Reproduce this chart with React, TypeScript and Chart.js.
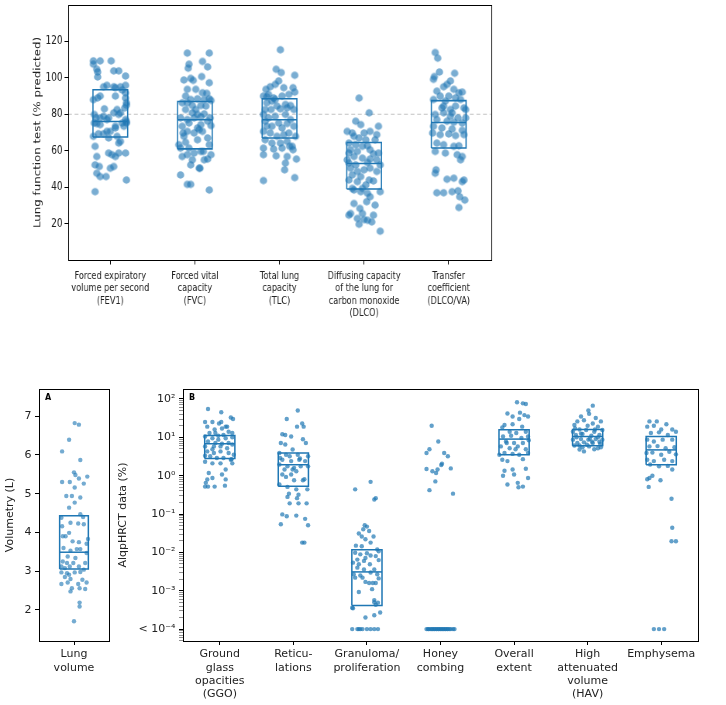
import React, { useEffect, useRef } from "react";
import { Chart, registerables } from "chart.js";

Chart.register(...registerables);

const FONT = "'DejaVu Sans', 'Noto Sans', sans-serif";
const BLUE = "#1f77b4";
const TEXT = "#222222";

// ---------------- Top chart: lung function tests ----------------
const pftCategories = [
  ["Forced expiratory", "volume per second", "(FEV1)"],
  ["Forced vital", "capacity", "(FVC)"],
  ["Total lung", "capacity", "(TLC)"],
  ["Diffusing capacity", "of the lung for", "carbon monoxide", "(DLCO)"],
  ["Transfer", "coefficient", "(DLCO/VA)"],
];
const pftYTicks = [20, 40, 60, 80, 100, 120];
const pftYRange = [0, 140];
const pftReference = 80;
const pftQ1 = [67.5, 61, 67, 39, 61.5];
const pftMedian = [76, 77, 77, 53, 75.5];
const pftQ3 = [93.5, 87, 88.5, 64.5, 87.5];

const fev1Values = [
  109.3, 107.5, 109.3, 109.3, 104.7, 103.2, 103.8, 103.8, 101, 100.5,
  90, 89, 95.1, 95.9, 95.1, 94.6, 95.1, 95.9, 91.8, 88.9,
  93.3, 90, 86.3, 83.5, 83, 82.6, 80.8, 79.9, 78, 78,
  78.9, 78, 79.9, 77.1, 80.8, 75.2, 74.9, 74.3, 77.1, 72.5,
  75.2, 75.2, 67.9, 62.4, 56.8, 52.2, 51.3, 47.6, 45.8, 45.8,
  50.4, 51.3, 58.7, 57.8, 56.8, 58.7, 58.7, 43.9, 37.5, 70.6,
  70.6, 73.4, 69.3, 64.2, 65.1, 73.4, 69.3, 67, 67.9, 85, 76, 88,
];
const fev1Jitter = [
  -0.2, -0.2, -0.12, 0.01, -0.16, -0.15, 0.04, 0.1, 0.18, -0.15,
  -0.12, -0.15, -0.08, -0.04, 0.04, 0.06, 0.12, 0.18, 0.18, 0.18,
  0.14, 0.06, 0.19, 0.17, -0.07, 0.08, 0.04, -0.19, -0.17, -0.12,
  -0.08, -0.02, 0.1, 0.18, 0.12, -0.19, -0.16, -0.12, -0.04, 0.06,
  0.14, 0.19, -0.2, -0.18, -0.16, -0.18, -0.13, -0.16, -0.12, -0.05,
  0, 0.04, -0.02, 0.02, 0.06, 0.1, 0.18, 0.19, -0.18, -0.04,
  0, 0.06, -0.08, 0.1, 0.12, 0.16, -0.14, -0.02, 0.08, 0.19, 0.19, -0.2,
];

const fvcValues = [
  113.6, 113.6, 107.5, 109, 106, 105.3, 98.8, 99.7, 98.6, 100.7,
  97.3, 93.7, 91.8, 91.5, 90, 88.1, 88.5, 88.1, 88.5, 86.3,
  86.3, 84.8, 84.8, 84.5, 87.6, 82.6, 80.8, 79.9, 80.2, 78,
  78, 77.1, 78, 78.6, 76.2, 73.4, 75.2, 74.3, 72.5, 73.8,
  70.6, 69.7, 71.6, 70.6, 67.9, 64.6, 66, 67, 63.3, 63.3,
  61.4, 61.4, 59.6, 57.8, 56.8, 58.7, 57.8, 55, 50.4, 55,
  55.4, 46.7, 41.5, 41.5, 38.4, 52.2, 59.6, 69.7, 82.6, 93.7, 50.4,
];
const fvcJitter = [
  -0.09, 0.17, -0.07, 0.09, 0.15, -0.08, -0.13, -0.05, -0.02, 0.08,
  0.17, 0.01, 0.09, 0.14, -0.11, -0.05, 0.03, 0.11, 0.17, -0.15,
  -0.09, -0.03, 0.07, 0.13, 0.19, -0.11, -0.03, 0.03, 0.11, 0.18,
  -0.17, -0.09, -0.01, 0.07, 0.15, -0.15, -0.07, 0.07, 0.03, 0.19,
  -0.09, -0.01, 0.05, 0.09, -0.13, -0.11, 0.03, 0.15, 0.17, -0.19,
  -0.17, -0.07, 0.07, -0.09, -0.15, -0.01, 0.19, -0.03, 0.05, 0.11,
  0.15, -0.17, -0.09, -0.05, 0.17, -0.05, 0.1, -0.14, 0.01, -0.09, 0.06,
];

const tlcValues = [
  115.4, 104.7, 102.9, 101.4, 93.7, 95.1, 96.4, 94.6, 98.3, 94.6,
  92.2, 90, 90.9, 89, 90, 90.9, 86.3, 87.2, 84.5, 85.4,
  84.8, 82.6, 82.6, 83, 83.5, 82.6, 79.9, 78, 78.9, 79.9,
  77.1, 76.2, 73.4, 75.2, 74.9, 73.4, 70.6, 69.7, 67.9, 68.8,
  69.7, 67.9, 66, 64.2, 64.2, 65.1, 62.4, 61.4, 60.9, 61.4,
  60.5, 57.8, 57.2, 56.8, 55.4, 53.2, 49.5, 45.2, 43.6, 73.4,
  72.5, 62.4, 88.1, 89.6,
];
const tlcJitter = [
  0.01, -0.04, 0.02, 0.18, -0.16, -0.11, -0.05, 0.05, -0.01, 0.16,
  0.18, -0.19, -0.13, -0.07, 0.03, 0.11, -0.15, -0.09, -0.03, 0.07,
  0.13, -0.17, -0.1, 0.01, 0.09, 0.17, -0.19, -0.13, -0.05, 0.07,
  0.13, -0.17, -0.09, -0.01, 0.09, 0.17, -0.19, -0.11, -0.03, 0.05,
  0.11, 0.19, -0.17, -0.09, 0.01, 0.09, 0.15, -0.19, -0.07, 0.03,
  0.16, -0.19, -0.04, 0.09, 0.2, 0.07, 0.06, 0.18, -0.19, -0.15,
  0.03, 0.12, -0.05, -0.15,
];

const dlcoValues = [
  88.9, 80.8, 76.2, 74.3, 73.4, 70.6, 69.7, 69.7, 70.6, 67.9,
  67, 66, 66, 64.2, 63.3, 62.7, 60.5, 59.6, 58.7, 58.3,
  58.7, 56.8, 55.9, 55.4, 55, 53.2, 52.2, 53.5, 52.2, 50.4,
  48.6, 49.5, 50.4, 48.6, 46.7, 45.8, 43.9, 43.4, 43.9, 43,
  41.2, 38.4, 37.5, 36.6, 37.5, 39.3, 34.7, 31, 32, 30.1,
  28.3, 25.5, 24.6, 24.6, 22.8, 22.2, 21.8, 20.9, 19.6, 15.8,
  25.5, 60.5, 68.8, 62.4, 55, 39.3,
];
const dlcoJitter = [
  -0.06, 0.06, -0.1, -0.04, 0.17, -0.2, -0.14, 0, 0.07, -0.12,
  -0.06, 0.02, 0.13, -0.18, -0.1, 0.04, -0.16, -0.08, -0.18, 0.11,
  0.17, -0.12, -0.02, 0.07, 0.15, -0.18, -0.1, 0.04, 0.19, -0.16,
  -0.08, 0, 0.07, 0.15, -0.14, -0.04, 0.06, 0.11, -0.18, -0.08,
  0.02, -0.12, -0.04, 0.04, 0.19, -0.02, 0.07, -0.12, 0.03, 0.13,
  -0.05, -0.02, -0.18, 0.11, -0.08, 0, 0.04, 0.09, -0.06, 0.19,
  -0.16, 0.07, 0.15, -0.02, -0.2, -0.14,
];

const dlcoVaValues = [
  113.9, 110.8, 103.2, 100.7, 99.2, 102.5, 98.3, 96.4, 95.1, 93.7,
  91.8, 92.2, 92.7, 90, 90, 89, 88.1, 87.2, 88.1, 83.5,
  82.6, 84.5, 83.5, 79.9, 80.8, 80.8, 78, 78, 77.1, 76.2,
  75.6, 75.2, 73.4, 72.5, 71.9, 71.2, 69.7, 68.8, 69.2, 68.3,
  68.8, 64.2, 63.3, 62.4, 62.7, 59.6, 58.7, 57.8, 56.8, 55,
  49.5, 47.6, 44.3, 44.9, 43, 43.9, 36.9, 36.9, 37.5, 38,
  34.7, 32.9, 28.8, 84.5, 78.9, 82.6,
];
const dlcoVaJitter = [
  -0.16, -0.13, -0.11, -0.17, -0.18, 0.07, 0.02, -0.02, -0.06, 0.06,
  0.12, 0.16, -0.14, -0.1, 0, 0.08, -0.18, -0.04, 0.14, -0.08,
  0.02, 0.08, 0.18, -0.16, -0.06, 0.04, 0.11, 0.2, -0.14, -0.02,
  0.06, 0.16, -0.18, -0.08, 0.04, 0.16, -0.19, -0.1, 0, 0.08,
  0.18, -0.14, -0.06, 0.06, 0.12, -0.16, -0.04, 0.1, 0.16, 0.14,
  -0.15, -0.16, -0.02, 0.06, 0.16, 0.18, -0.14, -0.06, 0.04, 0.11,
  0.13, 0.19, 0.12, -0.06, 0.02, 0.2,
];

// ---------------- Panel A: lung volume ----------------
const volCategories = [["Lung", "volume"]];
const volYTicks = [2, 3, 4, 5, 6, 7];
const volYRange = [1.2, 7.7];
const volQ1 = [3.06];
const volMedian = [3.49];
const volQ3 = [4.43];
const volValues = [
  6.82, 6.78, 6.39, 6.09, 5.87, 5.55, 5.48, 5.3, 5.3, 5.39,
  5.44, 5.26, 5.16, 4.94, 4.94, 4.9, 4.77, 4.64, 4.47, 4.4,
  4.38, 4.25, 4.23, 4.21, 4.16, 3.99, 3.9, 3.77, 3.75, 3.6,
  3.53, 3.57, 3.47, 3.38, 3.34, 3.25, 3.21, 3.21, 3.21, 3.12,
  3.08, 3.12, 3.12, 3.04, 2.97, 2.95, 2.97, 2.98, 2.85, 2.8,
  2.78, 2.71, 2.67, 2.71, 2.67, 2.56, 2.54, 2.48, 2.56, 2.19,
  2.09, 1.71, 3.71, 3.9, 3.57, 2.91, 3.83,
];
const volJitter = [
  0.01, 0.07, -0.07, -0.17, 0.09, 0, 0.02, -0.17, -0.06, 0.07,
  0.19, 0.14, 0.01, -0.11, -0.03, 0.09, 0.01, -0.07, 0.09, 0.13,
  -0.18, -0.05, 0.06, 0.14, -0.17, -0.07, -0.12, -0.02, 0.07, -0.15,
  -0.05, 0.09, 0.18, -0.09, 0.02, -0.16, -0.1, -0.01, 0.16, -0.18,
  -0.13, -0.06, 0.07, 0.14, -0.18, -0.1, 0.01, 0.09, -0.13, -0.05,
  0.12, 0.18, -0.18, -0.09, 0.06, -0.03, 0.16, -0.05, 0.08, 0.08,
  0.08, 0, 0.18, -0.16, 0.04, -0.07, 0.2,
];

// ---------------- Panel B: AlqpHRCT data (log) ----------------
const ctCategories = [
  ["Ground", "glass", "opacities", "(GGO)"],
  ["Reticu-", "lations"],
  ["Granuloma/", "proliferation"],
  ["Honey", "combing"],
  ["Overall", "extent"],
  ["High", "attenuated", "volume", "(HAV)"],
  ["Emphysema"],
];
const ctMajorTicks = [1e-4, 1e-3, 1e-2, 1e-1, 1, 10, 100];
const ctTickLabels = ["< 10⁻⁴", "10⁻³", "10⁻²", "10⁻¹", "10⁰", "10¹", "10²"];
const ctYRange = [4.9e-5, 182];
// box statistics per category (null = no box drawn)
const ctQ1 = [2.8, 0.53, 0.00041, null, 3.5, 6, 1.93];
const ctMedian = [6.8, 1.93, 0.0031, null, 9.0, 10.5, 4.7];
const ctQ3 = [11.2, 3.9, 0.0117, null, 15.7, 16, 10.5];

const ggoValues = [
  55, 45, 33, 30, 25, 25, 23, 25, 19, 19,
  16, 17, 14, 13, 13, 11.5, 13, 10.5, 9.5, 8.7,
  9.5, 10, 7.8, 7.1, 6.8, 7.1, 5.8, 4.9, 5.8, 5.2,
  6.5, 4.3, 3.9, 4.3, 3.9, 3.3, 3.2, 2.9, 2.9, 2.7,
  2.3, 2.1, 2.1, 2.1, 1.45, 1.17, 1.07, 0.8, 0.87, 0.8,
  0.65, 0.52, 0.52, 0.55, 0.52, 2.6, 3.5, 5.8, 11, 19,
];
const ggoJitter = [
  -0.16, 0.02, 0.15, 0.18, -0.2, -0.1, -0.01, 0.02, 0.08, -0.17,
  -0.07, 0.03, 0.12, -0.14, -0.06, 0.05, 0.17, -0.2, -0.1, -0.02,
  0.08, 0.17, -0.16, -0.06, 0.03, 0.12, -0.2, -0.1, 0.01, 0.1,
  0.17, -0.17, -0.08, 0.01, 0.12, -0.2, -0.13, -0.04, 0.05, 0.16,
  -0.2, -0.1, 0.01, 0.17, 0.08, -0.15, 0.03, -0.17, -0.1, 0.08,
  -0.19, -0.16, -0.07, 0.07, -0.2, 0.15, 0.19, -0.08, -0.02, 0.1,
];

const reticValues = [
  50, 30, 19, 23, 19, 12, 11.5, 10.5, 8.9, 7.1,
  7.1, 6.5, 4.8, 3.9, 3.5, 3.5, 3.2, 2.6, 2.4, 2.6,
  2.4, 1.95, 1.75, 1.6, 1.75, 1.75, 1.45, 1.07, 0.93, 0.76,
  0.76, 0.81, 0.59, 0.51, 0.44, 0.44, 0.34, 0.32, 0.28, 0.26,
  0.19, 0.19, 0.19, 0.098, 0.088, 0.091, 0.075, 0.054, 0.051, 0.018,
  0.018, 3.2, 1.3, 2.8, 1.45, 1.07, 2.9,
];
const reticJitter = [
  0.06, -0.09, 0.05, 0.12, 0.14, -0.15, -0.11, -0.03, 0.13, 0.17,
  -0.17, -0.11, -0.01, -0.19, -0.1, 0.06, 0.2, -0.15, -0.03, 0.08,
  0.16, -0.19, -0.08, 0.01, 0.1, 0.2, -0.01, -0.15, -0.1, 0.01,
  0.13, 0.15, -0.19, -0.08, 0.04, 0.19, -0.06, 0.07, -0.08, 0.05,
  -0.05, 0.07, 0.18, -0.15, -0.09, 0.04, 0.16, -0.17, 0.2, 0.12,
  0.15, -0.05, 0.04, 0.09, -0.12, -0.03, -0.18,
];

// values of 1e-4 are below detection (plotted on the "< 10⁻⁴" row)
const granValues = [
  0.69, 0.44, 0.26, 0.24, 0.051, 0.047, 0.04, 0.031, 0.036, 0.026,
  0.026, 0.022, 0.018, 0.0145, 0.0107, 0.0098, 0.0089, 0.0083, 0.0072, 0.008,
  0.0063, 0.0054, 0.0049, 0.0049, 0.004, 0.0036, 0.0036, 0.0027, 0.0025, 0.003,
  0.0027, 0.0022, 0.0022, 0.0021, 0.0017, 0.0016, 0.0016, 0.0016, 0.0011, 0.00093,
  0.00049, 0.00057, 0.00035, 0.00043, 0.0002, 0.00023, 0.00027, 0.00036, 0.0005,
  0.015, 0.006, 0.012, 0.0065, 0.0095,
  1e-4, 1e-4, 1e-4, 1e-4, 1e-4, 1e-4, 1e-4, 1e-4, 1e-4,
];
const granJitter = [
  0.05, -0.16, 0.12, 0.1, -0.03, 0, -0.05, -0.11, 0.03, -0.07,
  0.09, -0.02, 0.05, -0.07, 0.16, -0.16, -0.09, 0.05, -0.02, 0.12,
  0.16, -0.19, -0.11, 0.04, -0.13, -0.04, 0.1, -0.18, -0.09, 0.05,
  0.14, -0.16, -0.06, 0.16, -0.02, 0.03, 0.08, 0.12, 0.07, -0.11,
  0.15, 0.1, -0.19, 0.12, -0.02, 0.1, 0.18, -0.2, 0.1,
  -0.15, -0.04, 0.14, -0.13, 0,
  -0.2, -0.13, -0.11, -0.09, -0.06, 0, 0.05, 0.1, 0.15,
];

const honeyValues = [
  20, 7.8, 4.9, 3.9, 3.9, 3.2, 2.05, 1.9, 1.5, 1.3, 1.17, 1.55, 1.45, 0.71, 0.42, 0.34,
  1e-4, 1e-4, 1e-4, 1e-4, 1e-4, 1e-4, 1e-4, 1e-4, 1e-4, 1e-4, 1e-4, 1e-4,
  1e-4, 1e-4, 1e-4, 1e-4, 1e-4, 1e-4, 1e-4, 1e-4, 1e-4, 1e-4, 1e-4, 1e-4,
];
const honeyJitter = [
  -0.12, -0.03, -0.15, -0.19, 0.05, 0.1, 0.02, 0.01, -0.19, -0.11, -0.06, 0.14, -0.04, -0.07, -0.15, 0.17,
  -0.19, -0.17, -0.16, -0.14, -0.12, -0.11, -0.09, -0.08, -0.06, -0.05, -0.03, -0.02,
  0, 0.01, 0.03, 0.04, 0.06, 0.07, 0.09, 0.1, 0.12, 0.14, 0.17, 0.19,
];

const overallValues = [
  82, 77, 74, 42, 35, 44, 38, 35, 30, 21,
  22, 19, 18, 14, 13, 14, 10.5, 11, 9.6, 10.5,
  7.8, 7.1, 7.1, 5.8, 5.2, 5.8, 4.9, 3.5, 3.9, 3.7,
  3.5, 3.9, 2.6, 2.4, 2.7, 1.45, 1.52, 1.35, 1.0, 1.07,
  0.87, 0.59, 0.65, 0.52, 0.5, 4.9, 7.1, 8.4,
];
const overallJitter = [
  0.04, 0.12, 0.16, -0.09, -0.02, 0.08, 0.14, 0.19, 0.07, -0.13,
  -0.02, 0.11, -0.16, -0.06, 0.03, 0.16, -0.15, -0.04, 0.1, 0.19,
  -0.11, 0, 0.12, -0.18, -0.06, 0.05, 0.16, -0.2, -0.13, -0.02,
  0.07, 0.19, -0.16, -0.09, 0.12, -0.02, 0.16, -0.13, -0.15, 0,
  0.19, -0.09, 0.05, 0.12, 0.06, 0.02, -0.1, 0.2,
];

const havValues = [
  67, 50, 41, 35, 32, 26, 28, 26, 23, 21,
  20, 19, 16, 14, 15.5, 14, 15.5, 11.5, 12.3, 11,
  11.5, 8.7, 9, 8.7, 9, 8.7, 7.1, 7.4, 7.1, 6.8,
  6.1, 5.5, 5.8, 5.2, 4.8, 4.3, 4.9, 5.5, 10, 9.2,
  10, 12.5, 16, 17, 6.4, 7.7, 6.1, 7.7,
];
const havJitter = [
  0.07, 0.01, 0.02, -0.09, 0.11, -0.14, -0.05, 0.18, 0.07, -0.18,
  0, 0.14, -0.11, -0.2, -0.02, 0.09, 0.2, -0.16, -0.07, 0.05,
  0.16, -0.2, -0.09, 0.01, 0.11, 0.2, -0.14, -0.05, 0.07, 0.17,
  -0.18, -0.07, 0.02, 0.14, -0.11, -0.05, 0.09, 0.18, -0.15, 0.03,
  0.14, -0.09, 0.1, -0.17, -0.01, 0.06, -0.11, 0.16,
];

const emphValues = [
  26, 26, 22, 19, 20, 16, 16, 14, 13, 13.5,
  11.5, 8.7, 7.8, 8.7, 8.7, 5.8, 5.9, 5.2, 5.5, 3.9,
  4.0, 3.5, 4.2, 3.6, 2.6, 2.4, 2.6, 2.4, 1.95, 1.75,
  1.8, 1.45, 1.0, 0.87, 0.81, 0.76, 0.51, 0.25, 0.044, 0.0195,
  0.0195, 1e-4, 1e-4, 1e-4,
];
const emphJitter = [
  -0.16, -0.06, 0.07, -0.19, -0.1, 0, 0.15, 0.2, -0.14, -0.03,
  0.09, -0.19, -0.1, 0.02, 0.15, -0.16, -0.05, 0.06, 0.18, -0.2,
  -0.12, 0, 0.11, 0.2, -0.19, -0.1, 0.04, 0.15, -0.15, -0.03,
  0.09, 0.15, -0.12, -0.16, -0.19, -0.01, -0.17, 0.14, 0.15, 0.14,
  0.2, -0.1, -0.03, 0.04,
];

// ---------------- helpers ----------------
const BOX_HALF = 0.205;

function stripDataset(values: number[], jitter: number[], idx: number, radius: number, color: string, style?: any) {
  return {
    data: values.map((v, i) => ({ x: idx + jitter[i], y: v })),
    showLine: false,
    pointRadius: radius,
    pointHoverRadius: radius,
    pointBackgroundColor: color,
    pointBorderWidth: 0,
    pointStyle: style || "circle",
    order: 1,
  };
}

// marker pre-widened so that it looks round after the horizontal compression
function ellipseMarker(r: number, sx: number, color: string) {
  const c = document.createElement("canvas");
  const w = Math.ceil((2 * r) / sx) + 2;
  const h = Math.ceil(2 * r) + 2;
  c.width = w;
  c.height = h;
  const g = c.getContext("2d")!;
  g.fillStyle = color;
  g.beginPath();
  g.ellipse(w / 2, h / 2, r / sx, r, 0, 0, Math.PI * 2);
  g.fill();
  return c;
}

function boxDatasets(q1: any[], med: any[], q3: any[], lw: number) {
  const out: any[] = [];
  q1.forEach((lo, i) => {
    if (lo == null) return;
    const hi = q3[i];
    const m = med[i];
    out.push({
      data: [
        { x: i - BOX_HALF, y: lo },
        { x: i + BOX_HALF, y: lo },
        { x: i + BOX_HALF, y: hi },
        { x: i - BOX_HALF, y: hi },
        { x: i - BOX_HALF, y: lo },
      ],
      showLine: true,
      borderColor: BLUE,
      borderWidth: lw,
      borderJoinStyle: "miter",
      pointRadius: 0,
      pointHoverRadius: 0,
      fill: false,
      tension: 0,
      order: 0,
    });
    out.push({
      data: [
        { x: i - BOX_HALF, y: m },
        { x: i + BOX_HALF, y: m },
      ],
      showLine: true,
      borderColor: BLUE,
      borderWidth: lw,
      pointRadius: 0,
      pointHoverRadius: 0,
      fill: false,
      order: 0,
    });
  });
  return out;
}

const framePlugin = {
  id: "frame",
  afterDatasetsDraw(chart: any, _args: any, opts: any) {
    const { ctx, chartArea: a } = chart;
    ctx.save();
    ctx.strokeStyle = "#000";
    ctx.lineWidth = opts.lineWidth || 1;
    ctx.strokeRect(Math.round(a.left) + 0.5, Math.round(a.top) + 0.5, Math.round(a.right - a.left), Math.round(a.bottom - a.top));
    if (opts.label) {
      ctx.fillStyle = "#000";
      ctx.font = `bold 8px ${FONT}`;
      ctx.textAlign = "center";
      ctx.textBaseline = "middle";
      ctx.fillText(opts.label, a.left + 9, a.top + 9);
    }
    ctx.restore();
  },
};

function axisBase(fontSize: number, tickLen: number, pad: number) {
  return {
    border: { display: false },
    grid: {
      display: true,
      drawOnChartArea: false,
      drawTicks: true,
      tickLength: tickLen,
      tickColor: "#000",
      tickWidth: 1,
    },
    ticks: {
      color: TEXT,
      font: { size: fontSize, family: FONT },
      padding: pad,
      autoSkip: false,
      maxRotation: 0,
      minRotation: 0,
    },
  };
}

function baseOptions() {
  return {
    responsive: false,
    maintainAspectRatio: false,
    animation: false,
    events: [],
  };
}

function fixWidth(w: number) {
  return (s: any) => {
    s.width = w;
    s.paddingTop = 0;
    s.paddingBottom = 0;
  };
}
function fixHeight(h: number) {
  return (s: any) => {
    s.height = h;
    s.paddingLeft = 0;
    s.paddingRight = 0;
  };
}

// Top chart drawn at a wider internal size then compressed horizontally
const TOP_SX = 0.775;
const TOP_W = 937;
const TOP_H = 345;

function makeTop(canvas: HTMLCanvasElement) {
  const marker = ellipseMarker(3.7, TOP_SX, "rgba(31,119,180,0.6)");
  const groups = [
    [fev1Values, fev1Jitter],
    [fvcValues, fvcJitter],
    [tlcValues, tlcJitter],
    [dlcoValues, dlcoJitter],
    [dlcoVaValues, dlcoVaJitter],
  ];
  const datasets: any[] = [
    {
      data: [
        { x: -0.5, y: pftReference },
        { x: pftCategories.length - 0.5, y: pftReference },
      ],
      showLine: true,
      borderColor: "#c2c2c2",
      borderWidth: 1.1,
      borderDash: [5, 3.5],
      pointRadius: 0,
      pointHoverRadius: 0,
      order: 2,
    },
    ...groups.map((g, i) => stripDataset(g[0] as number[], g[1] as number[], i, 3.7, "rgba(31,119,180,0.6)", marker)),
    ...boxDatasets(pftQ1, pftMedian, pftQ3, 1.6),
  ];
  const left = 68 / TOP_SX;
  const right = 491 / TOP_SX;
  const padLeft = 38;
  const xBase = axisBase(10.5, 4.5, 5);
  const yBase = axisBase(11.5, 4.5, 2.5);
  return new Chart(canvas, {
    type: "scatter",
    data: { datasets },
    plugins: [framePlugin],
    options: {
      ...baseOptions(),
      layout: { padding: { left: padLeft, right: TOP_W - right, top: 5, bottom: 0 } },
      plugins: { legend: { display: false }, tooltip: { enabled: false }, frame: { lineWidth: 1 } },
      scales: {
        x: {
          ...xBase,
          type: "linear",
          min: -0.5,
          max: pftCategories.length - 0.5,
          afterBuildTicks: (s: any) => {
            s.ticks = pftCategories.map((_, i) => ({ value: i }));
          },
          afterFit: fixHeight(TOP_H - 260),
          ticks: { ...xBase.ticks, callback: (v: any) => pftCategories[Math.round(v)] },
        },
        y: {
          ...yBase,
          type: "linear",
          min: pftYRange[0],
          max: pftYRange[1],
          afterBuildTicks: (s: any) => {
            s.ticks = pftYTicks.map((v) => ({ value: v }));
          },
          afterFit: fixWidth(left - padLeft),
          ticks: { ...yBase.ticks, callback: (v: any) => String(v) },
          title: {
            display: true,
            text: "Lung function test (% predicted)",
            color: TEXT,
            font: { size: 11.8, family: FONT },
            padding: { top: 4, bottom: 0 },
          },
        },
      },
    },
  } as any);
}

function makeA(canvas: HTMLCanvasElement) {
  const datasets: any[] = [
    stripDataset(volValues, volJitter, 0, 2.2, "rgba(31,119,180,0.62)"),
    ...boxDatasets(volQ1, volMedian, volQ3, 1.5),
  ];
  const xBase = axisBase(11, 4, 3);
  const yBase = axisBase(11, 4, 3.5);
  return new Chart(canvas, {
    type: "scatter",
    data: { datasets },
    plugins: [framePlugin],
    options: {
      ...baseOptions(),
      layout: { padding: { left: 0, right: 3, top: 9, bottom: 0 } },
      plugins: { legend: { display: false }, tooltip: { enabled: false }, frame: { lineWidth: 1, label: "A" } },
      scales: {
        x: {
          ...xBase,
          type: "linear",
          min: -0.5,
          max: 0.5,
          afterBuildTicks: (s: any) => {
            s.ticks = volCategories.map((_, i) => ({ value: i }));
          },
          afterFit: fixHeight(64),
          ticks: { ...xBase.ticks, callback: (v: any) => volCategories[Math.round(v)] },
        },
        y: {
          ...yBase,
          type: "linear",
          min: volYRange[0],
          max: volYRange[1],
          afterBuildTicks: (s: any) => {
            s.ticks = volYTicks.map((v) => ({ value: v }));
          },
          afterFit: fixWidth(39),
          ticks: { ...yBase.ticks, callback: (v: any) => String(v) },
          title: {
            display: true,
            text: "Volumetry (L)",
            color: TEXT,
            font: { size: 11, family: FONT },
            padding: { top: 3.5, bottom: 0 },
          },
        },
      },
    },
  } as any);
}

function isMajorLog(v: number) {
  return ctMajorTicks.some((m) => Math.abs(Math.log10(v) - Math.log10(m)) < 1e-6);
}

function makeB(canvas: HTMLCanvasElement) {
  const color = "rgba(31,119,180,0.7)";
  const groups = [
    [ggoValues, ggoJitter],
    [reticValues, reticJitter],
    [granValues, granJitter],
    [honeyValues, honeyJitter],
    [overallValues, overallJitter],
    [havValues, havJitter],
    [emphValues, emphJitter],
  ];
  const datasets: any[] = [
    ...groups.map((g, i) => stripDataset(g[0] as number[], g[1] as number[], i, 2.2, color)),
    ...boxDatasets(ctQ1, ctMedian, ctQ3, 1.5),
  ];
  const xBase = axisBase(11, 4, 3);
  const yBase = axisBase(11, 4, 3.5);
  return new Chart(canvas, {
    type: "scatter",
    data: { datasets },
    plugins: [framePlugin],
    options: {
      ...baseOptions(),
      layout: { padding: { left: 0, right: 28, top: 9, bottom: 0 } },
      plugins: { legend: { display: false }, tooltip: { enabled: false }, frame: { lineWidth: 1, label: "B" } },
      scales: {
        x: {
          ...xBase,
          type: "linear",
          min: -0.5,
          max: ctCategories.length - 0.5,
          afterBuildTicks: (s: any) => {
            s.ticks = ctCategories.map((_, i) => ({ value: i }));
          },
          afterFit: fixHeight(64),
          ticks: { ...xBase.ticks, callback: (v: any) => ctCategories[Math.round(v)] },
        },
        y: {
          ...yBase,
          type: "logarithmic",
          min: ctYRange[0],
          max: ctYRange[1],
          grid: {
            ...yBase.grid,
            tickWidth: (c: any) => (c.tick && isMajorLog(c.tick.value) ? 1 : 0.6),
            tickColor: (c: any) => (c.tick && isMajorLog(c.tick.value) ? "#000" : "#444"),
          },
          afterBuildTicks: (s: any) => {
            const ticks: any[] = [];
            [1e-5, ...ctMajorTicks].forEach((m) => {
              for (let k = 1; k <= 9; k++) {
                const v = m * k;
                if (v >= ctYRange[0] && v <= ctYRange[1]) ticks.push({ value: v });
              }
            });
            s.ticks = ticks;
          },
          afterFit: fixWidth(71),
          ticks: {
            ...yBase.ticks,
            callback: (v: any) => {
              const i = ctMajorTicks.findIndex((m) => Math.abs(Math.log10(v) - Math.log10(m)) < 1e-6);
              return i >= 0 ? ctTickLabels[i] : "";
            },
          },
          title: {
            display: true,
            text: "AlqpHRCT data (%)",
            color: TEXT,
            font: { size: 11, family: FONT },
            padding: { top: 4.4, bottom: 0 },
          },
        },
      },
    },
  } as any);
}

export default function App() {
  const topRef = useRef<HTMLCanvasElement>(null);
  const aRef = useRef<HTMLCanvasElement>(null);
  const bRef = useRef<HTMLCanvasElement>(null);

  useEffect(() => {
    const charts = [makeTop(topRef.current!), makeA(aRef.current!), makeB(bRef.current!)];
    return () => charts.forEach((c) => c.destroy());
  }, []);

  return (
    <div style={{ position: "absolute", left: 0, top: 0, width: 726, height: 705, background: "#fff", overflow: "hidden" }}>
      <div style={{ position: "absolute", left: 0, top: 0, transform: `scaleX(${TOP_SX})`, transformOrigin: "0 0" }}>
        <canvas ref={topRef} width={TOP_W} height={TOP_H} />
      </div>
      <div style={{ position: "absolute", left: 0, top: 380 }}>
        <canvas ref={aRef} width={112} height={325} />
      </div>
      <div style={{ position: "absolute", left: 112, top: 380 }}>
        <canvas ref={bRef} width={614} height={325} />
      </div>
    </div>
  );
}
